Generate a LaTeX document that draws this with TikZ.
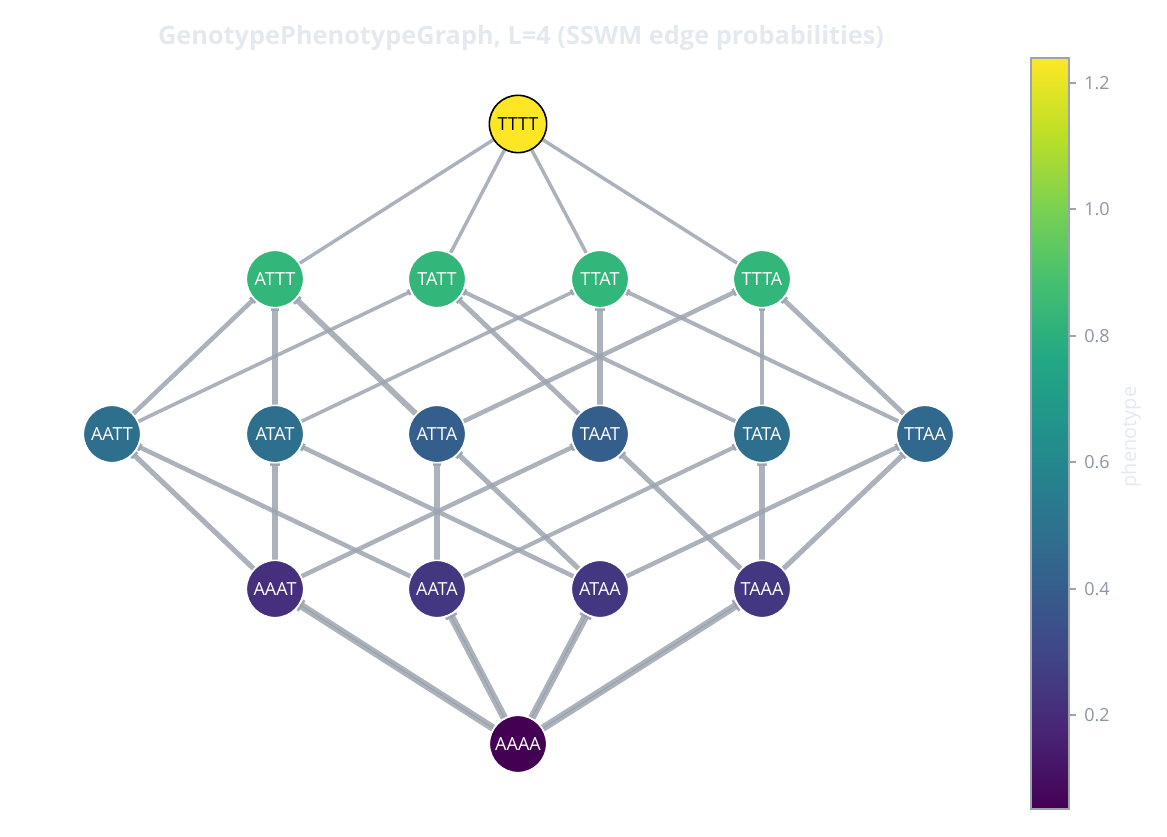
\documentclass[tikz,border=0pt]{standalone}
\usepackage{fontspec}
\setmainfont{Open Sans}
\usetikzlibrary{arrows.meta}
\pgfdeclarelayer{bg}
\pgfsetlayers{bg,main}
\definecolor{v0}{HTML}{440154}
\definecolor{v1}{HTML}{482475}
\definecolor{v2}{HTML}{414487}
\definecolor{v3}{HTML}{355F8D}
\definecolor{v4}{HTML}{2A788E}
\definecolor{v5}{HTML}{21918C}
\definecolor{v6}{HTML}{22A884}
\definecolor{v7}{HTML}{44BF70}
\definecolor{v8}{HTML}{7AD151}
\definecolor{v9}{HTML}{BDDF26}
\definecolor{v10}{HTML}{FDE725}
\definecolor{cTop}{HTML}{FDE725}
\definecolor{cRowTwo}{HTML}{33B679}
\definecolor{cRowThreeA}{HTML}{2E6F8E}
\definecolor{cRowThreeB}{HTML}{345F8D}
\definecolor{cRowThreeC}{HTML}{31688E}
\definecolor{cRowFourA}{HTML}{46307E}
\definecolor{cRowFourB}{HTML}{443782}
\definecolor{cBottom}{HTML}{440154}
\definecolor{edgegray}{HTML}{9CA4AF}
\definecolor{edgedark}{HTML}{8A929D}
\definecolor{titlegray}{HTML}{E4E9F0}
\definecolor{tickgray}{HTML}{8C95A3}
\definecolor{framegray}{HTML}{9AA3AF}
\pgfdeclareverticalshading{viridis}{100bp}{color(0bp)=(v0); color(25bp)=(v0); color(30bp)=(v1); color(35bp)=(v2); color(40bp)=(v3); color(45bp)=(v4); color(50bp)=(v5); color(55bp)=(v6); color(60bp)=(v7); color(65bp)=(v8); color(70bp)=(v9); color(75bp)=(v10); color(100bp)=(v10)}
\tikzset{
  gnode/.style={circle, minimum size=43pt, inner sep=0pt, draw=white, line width=1.2pt, fill=#1, text=white, font=\fontsize{13.5}{15}\selectfont},
  edg/.style={draw=edgegray, draw opacity=0.85, line width=#1, -{Rectangle[length=2pt, width=0pt 1.7]}},
  edgn/.style={draw=edgegray, draw opacity=0.85, line width=#1},
  ticklbl/.style={anchor=west, text=tickgray, inner sep=0pt, font=\fontsize{13.5}{15}\selectfont},
  tickln/.style={draw=framegray, line width=1.1pt},
}
\begin{document}
\begin{tikzpicture}[x=0.75pt, y=-0.75pt]
\useasboundingbox (0,0) rectangle (1167,837);
% title
\node[text=titlegray, font=\bfseries\fontsize{19}{22}\selectfont] (title) at (521,38) {GenotypePhenotypeGraph, L=4 (SSWM edge probabilities)};
% nodes
\node[gnode=cTop, draw=black, text=black] (TTTT) at (518,124) {TTTT};
\node[gnode=cRowTwo] (ATTT) at (275,279) {ATTT};
\node[gnode=cRowTwo] (TATT) at (437,279) {TATT};
\node[gnode=cRowTwo] (TTAT) at (600,279) {TTAT};
\node[gnode=cRowTwo] (TTTA) at (762,279) {TTTA};
\node[gnode=cRowThreeA] (AATT) at (112,434) {AATT};
\node[gnode=cRowThreeA] (ATAT) at (275,434) {ATAT};
\node[gnode=cRowThreeB] (ATTA) at (437,434) {ATTA};
\node[gnode=cRowThreeB] (TAAT) at (600,434) {TAAT};
\node[gnode=cRowThreeA] (TATA) at (762,434) {TATA};
\node[gnode=cRowThreeC] (TTAA) at (925,434) {TTAA};
\node[gnode=cRowFourA] (AAAT) at (275,589) {AAAT};
\node[gnode=cRowFourB] (AATA) at (437,589) {AATA};
\node[gnode=cRowFourB] (ATAA) at (600,589) {ATAA};
\node[gnode=cRowFourB] (TAAA) at (762,589) {TAAA};
\node[gnode=cBottom] (AAAA) at (518,744) {AAAA};
\begin{pgfonlayer}{bg}
% row 2 -> top
\foreach \n in {ATTT,TATT,TTAT,TTTA} \draw[edgn=2.6pt] (\n) -- (TTTT);
% row 3 -> row 2
\draw[edg=3.4pt] (AATT) -- (ATTT);
\draw[edg=2.7pt] (AATT) -- (TATT);
\draw[edg=3.8pt] (ATAT) -- (ATTT);
\draw[edg=2.7pt] (ATAT) -- (TTAT);
\draw[edg=4.3pt] (ATTA) -- (ATTT);
\draw[edg=3.4pt] (ATTA) -- (TTTA);
\draw[edg=3.6pt] (TAAT) -- (TATT);
\draw[edg=4.6pt] (TAAT) -- (TTAT);
\draw[edg=3.0pt] (TATA) -- (TATT);
\draw[edg=3.0pt] (TATA) -- (TTTA);
\draw[edg=3.0pt] (TTAA) -- (TTAT);
\draw[edg=3.6pt] (TTAA) -- (TTTA);
% row 4 -> row 3
\draw[edg=3.8pt] (AAAT) -- (AATT);
\draw[edg=4.8pt] (AAAT) -- (ATAT);
\draw[edg=3.4pt] (AAAT) -- (TAAT);
\draw[edg=3.4pt] (AATA) -- (AATT);
\draw[edg=3.8pt] (AATA) -- (ATTA);
\draw[edg=3.1pt] (AATA) -- (TATA);
\draw[edg=3.4pt] (ATAA) -- (ATAT);
\draw[edg=3.8pt] (ATAA) -- (ATTA);
\draw[edg=3.4pt] (ATAA) -- (TTAA);
\draw[edg=3.8pt] (TAAA) -- (TAAT);
\draw[edg=4.4pt] (TAAA) -- (TATA);
\draw[edg=3.8pt] (TAAA) -- (TTAA);
% bottom -> row 4
\foreach \n in {AAAT,AATA,ATAA,TAAA} {
  \draw[edg=5.6pt] (AAAA) -- (\n);
  \draw[draw=edgedark, draw opacity=0.6, line width=0.7pt] (AAAA) -- (\n);
}
\end{pgfonlayer}
% colorbar
\shade[shading=viridis] (1031,58) rectangle (1069,809);
\draw[draw=framegray, line width=1.1pt] (1031,58) rectangle (1069,809);
\foreach \yy/\lab/\nm in {715/0.2/ta, 589/0.4/tb, 462/0.6/tc, 336/0.8/td, 209/1.0/te, 83/1.2/tf} {
  \draw[tickln] (1069,\yy) -- (1076,\yy);
  \node[ticklbl] (\nm) at (1084,\yy) {\lab};
}
\node[rotate=90, text=titlegray, font=\fontsize{15}{17}\selectfont] (cblabel) at (1131,437) {phenotype};
\end{tikzpicture}
\end{document}
